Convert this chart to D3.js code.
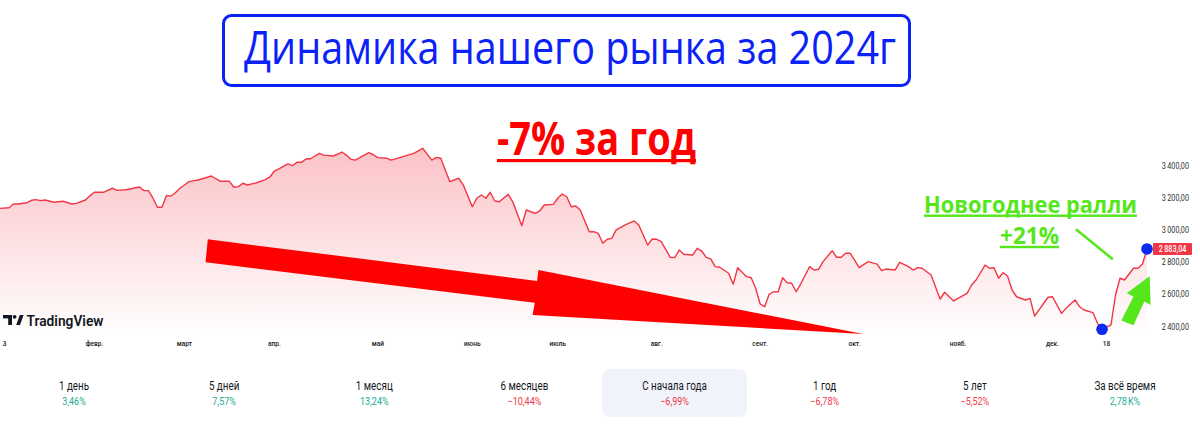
<!DOCTYPE html>
<html><head><meta charset="utf-8">
<script src="https://cdn.jsdelivr.net/npm/d3@7"></script>
<style>html,body{margin:0;padding:0;background:#fff;overflow:hidden}</style>
</head><body><svg id="c" width="1200" height="427"></svg>
<script>
// ---- data ----
const sessions = [0,2,3,4,6,7,8,9,10,12,14,16,17,19,20,21,23,25,26,28,31,32,33,34,35,36,37,38,39,40,41,42,44,45,47,49,51,52,53,54,55,57,59,60,61,62,64,65,66,67,68,69,71,72,74,75,76,77,78,79,80,82,83,84,86,87,89,
92,94,96,97,98,100,102,103,105,106,107,108,109,110,111,113,114,116,117,118,119,120,121,123,124,125,126,127,128,129,131,132,133,134,135,136,137,139,141,142,144,145,146,147,149,150,151,152,154,155,156,157,158,159,160,162,163,164,166,167,168,169,170,171,172,173,174,175,176,177,178,
180,181,182,183,185,186,187,188,189,190,191,193,195,196,197,199,200,202,203,204,205,207,209,210,212,213,215,216,217,219,220,221,222,223,224,225,226,228,229,230,233,234,236,237,239,240,241,243,244,245,247,248,249,250,252,253,254,255];
const closes = [3135,3139,3162,3162,3170,3185,3189,3183,3187,3173,3179,3162,3166,3187,3214,3235,3235,3260,3247,3251,3268,3245,3245,3198,3142,3142,3214,3212,3232,3260,3280,3301,3311,3319,3336,3303,3303,3266,3270,3291,3280,3294,3313,3330,3367,3380,3411,3400,3421,3421,3442,3443,3477,3466,3460,3471,3485,3466,3440,3435,3450,3481,3468,3450,3446,3435,3452,
3477,3508,3435,3452,3446,3301,3322,3280,3145,3198,3218,3198,3235,3181,3176,3222,3176,3027,3125,3114,3104,3120,3156,3160,3198,3224,3207,3145,3150,3125,2990,2990,2980,2918,2943,2949,3001,3032,3057,3032,2907,2945,2943,2928,2831,2829,2876,2850,2845,2887,2870,2831,2821,2773,2769,2732,2663,2766,2711,2704,2639,2541,2524,2601,2617,2617,2704,2673,2670,2617,2665,
2773,2752,2757,2804,2872,2831,2831,2856,2856,2814,2767,2804,2789,2748,2758,2752,2800,2773,2752,2767,2763,2721,2572,2614,2560,2576,2607,2659,2690,2783,2763,2766,2701,2735,2715,2628,2586,2566,2576,2466,2583,2586,2483,2514,2566,2524,2504,2487,2421,2384,2411,2597,2701,2690,2763,2763,2789,2883.04];
const monthLabels = ["3","февр.","март","апр.","май","июнь","июль","авг.","сент.","окт.","нояб.","дек.","18"];
const monthSessions = [1,21,41,61,84,105,124,146,169,190,213,234,246];
const priceTicks = [2400,2600,2800,3000,3200,3400];
const periodLabels = ["1 день","5 дней","1 месяц","6 месяцев","С начала года","1 год","5 лет","За всё время"];
const periodChanges = [3.46,7.57,13.24,-10.44,-6.99,-6.78,-5.52,2780];
const selectedPeriod = "С начала года";
const titleText = "Динамика нашего рынка за 2024г";
const yearText = "-7% за год";
const rallyText = "Новогоднее ралли";
const rallyPct = "+21%";
// annotation shapes in (session, price) units
const downArrow = [[46.2,2943],[119.4,2684],[119.7,2752],[191.9,2355],[118.4,2473],[118.9,2549],[45.7,2800]];
const upArrow = [[249.3,2439],[252,2588],[250.5,2607],[255.6,2715],[255.8,2535],[254.4,2556],[252,2409]];
const pointerLine = [[239.2,3005],[247.4,2819]];

// ---- drawing ----
const svg = d3.select("#c");
const x = d3.scaleLinear().domain([0,255]).range([0,1147]);
const y = d3.scaleLinear().domain([2400,3400]).range([326.7,165.7]);
const plotBottom = 336;
const data = sessions.map((s,i)=>({s, v:closes[i]}));
const RED = "#f23645", GREEN_TV = "#22ab94", BLUE = "#0b22f7", LIME = "#55e61c", INK = "#131722";
const ru = d3.formatLocale({decimal:",", thousands:"\u2009", grouping:[3], currency:["",""]});
const fmtPrice = ru.format(",.2f");

function squeeze(sel, f){
  sel.each(function(){
    const w = this.getComputedTextLength();
    d3.select(this).attr("textLength", w*f).attr("lengthAdjust","spacingAndGlyphs");
  });
}

const defs = svg.append("defs");
const grad = defs.append("linearGradient").attr("id","ag")
  .attr("gradientUnits","userSpaceOnUse").attr("x1",0).attr("y1",150).attr("x2",0).attr("y2",plotBottom);
grad.append("stop").attr("offset","0%").attr("stop-color",RED).attr("stop-opacity",0.3);
grad.append("stop").attr("offset","100%").attr("stop-color",RED).attr("stop-opacity",0.0);

// area + line
svg.append("path").datum(data)
  .attr("d", d3.area().x(d=>x(d.s)).y0(plotBottom).y1(d=>y(d.v)))
  .attr("fill","url(#ag)");
svg.append("path").datum(data)
  .attr("d", d3.line().x(d=>x(d.s)).y(d=>y(d.v)))
  .attr("fill","none").attr("stroke",RED).attr("stroke-width",1.4).attr("stroke-linejoin","round");

// y axis labels (right)
const yl = svg.append("g").selectAll("text").data(priceTicks).join("text")
  .attr("x",1189).attr("y",d=>y(d)).attr("dy","0.35em").attr("text-anchor","end")
  .attr("font-family","Roboto").attr("font-size",8.5).attr("fill","#333")
  .text(d=>fmtPrice(d));
squeeze(yl, 0.85);

// month labels
const ml = svg.append("g").selectAll("text").data(monthLabels).join("text")
  .attr("x",(d,i)=>x(monthSessions[i])).attr("y",346).attr("text-anchor","middle")
  .attr("font-family","Roboto").attr("font-size",8).attr("font-weight",500).attr("fill",INK)
  .text(d=>d);
squeeze(ml, 0.82);

// TradingView logo
const logo = svg.append("g").attr("fill",INK);
logo.append("rect").attr("x",3).attr("y",315).attr("width",9).attr("height",3.4);
logo.append("rect").attr("x",8.2).attr("y",315).attr("width",3.8).attr("height",10);
logo.append("circle").attr("cx",14.6).attr("cy",316.8).attr("r",1.9);
logo.append("path").attr("d","M16.2,325 L19.8,315 L23.6,315 L20,325 Z");
const tv = logo.append("text").attr("x",26.5).attr("y",325.5)
  .attr("font-family","Roboto").attr("font-size",14).attr("font-weight",600).text("TradingView");
tv.attr("textLength",77).attr("lengthAdjust","spacingAndGlyphs");

// annotations: red down arrow, green up arrow, pointer line
const poly = pts => "M" + pts.map(p=>x(p[0])+","+y(p[1])).join("L") + "Z";
svg.append("path").attr("d",poly(downArrow)).attr("fill","#ff0000");
svg.append("path").attr("d",poly(upArrow)).attr("fill",LIME);
svg.append("line").attr("x1",x(pointerLine[0][0])).attr("y1",y(pointerLine[0][1]))
  .attr("x2",x(pointerLine[1][0])).attr("y2",y(pointerLine[1][1]))
  .attr("stroke",LIME).attr("stroke-width",2.5);

// blue dots: minimum and last
const minD = data.reduce((a,b)=>b.v<a.v?b:a);
const lastD = data[data.length-1];
svg.selectAll("circle.dot").data([minD,lastD]).join("circle").attr("class","dot")
  .attr("cx",d=>x(d.s)).attr("cy",d=>y(d.v)).attr("r",5.8).attr("fill","#0a2af0");

// last price tag
svg.append("rect").attr("x",1153).attr("y",y(lastD.v)-6).attr("width",39).attr("height",12)
  .attr("fill",RED).attr("rx",1);
const pt = svg.append("text").attr("x",1172.5).attr("y",y(lastD.v)).attr("dy","0.35em")
  .attr("text-anchor","middle").attr("font-family","Roboto").attr("font-size",8.5)
  .attr("font-weight",500).attr("fill","#fff").text(fmtPrice(lastD.v));
squeeze(pt, 0.85);

// title box
svg.append("rect").attr("x",223.5).attr("y",15.5).attr("width",686).attr("height",70).attr("rx",8)
  .attr("fill","#fff").attr("stroke",BLUE).attr("stroke-width",3);
svg.append("text").attr("x",244).attr("y",64).attr("font-family","Open Sans").attr("font-size",45)
  .attr("fill",BLUE).attr("textLength",652).attr("lengthAdjust","spacingAndGlyphs").text(titleText);

// -7% за год
svg.append("text").attr("x",497).attr("y",155).attr("font-family","Open Sans").attr("font-weight",700)
  .attr("font-size",46).attr("fill","#ff0000").attr("textLength",199).attr("lengthAdjust","spacingAndGlyphs").text(yearText);
svg.append("rect").attr("x",497).attr("y",159).attr("width",199).attr("height",3.2).attr("fill","#ff0000");

// Новогоднее ралли +21%
svg.append("text").attr("x",924).attr("y",212.5).attr("font-family","Open Sans").attr("font-weight",700)
  .attr("font-size",23).attr("fill",LIME).attr("textLength",213).attr("lengthAdjust","spacingAndGlyphs").text(rallyText);
svg.append("rect").attr("x",924).attr("y",214.5).attr("width",213).attr("height",2.4).attr("fill",LIME);
svg.append("text").attr("x",1000).attr("y",244).attr("font-family","Open Sans").attr("font-weight",700)
  .attr("font-size",23).attr("fill",LIME).attr("textLength",59).attr("lengthAdjust","spacingAndGlyphs").text(rallyPct);
svg.append("rect").attr("x",1000).attr("y",245.8).attr("width",59).attr("height",2.4).attr("fill",LIME);

// bottom stats panel
const cx = d3.scalePoint().domain(periodLabels).range([74,1125]);
svg.append("rect").attr("x",cx(selectedPeriod)-72.5).attr("y",369).attr("width",145).attr("height",48)
  .attr("rx",8).attr("fill","#f0f3fa");
function fmtChange(v){
  const a = Math.abs(v);
  const s = a >= 1000 ? ru.format(".2f")(a/1000) + "\u202FK%" : ru.format(".2f")(a) + "%";
  return (v<0 ? "\u2212" : "") + s;
}
const lab = svg.append("g").selectAll("text").data(periodLabels).join("text")
  .attr("x",d=>cx(d)).attr("y",390).attr("text-anchor","middle")
  .attr("font-family","Roboto").attr("font-size",12).attr("fill",INK).text(d=>d);
squeeze(lab, 0.82);
const val = svg.append("g").selectAll("text").data(periodChanges).join("text")
  .attr("x",(d,i)=>cx(periodLabels[i])).attr("y",405).attr("text-anchor","middle")
  .attr("font-family","Roboto").attr("font-size",11).attr("fill",d=>d<0?RED:GREEN_TV).text(d=>fmtChange(d));
squeeze(val, 0.82);
</script></body></html>
